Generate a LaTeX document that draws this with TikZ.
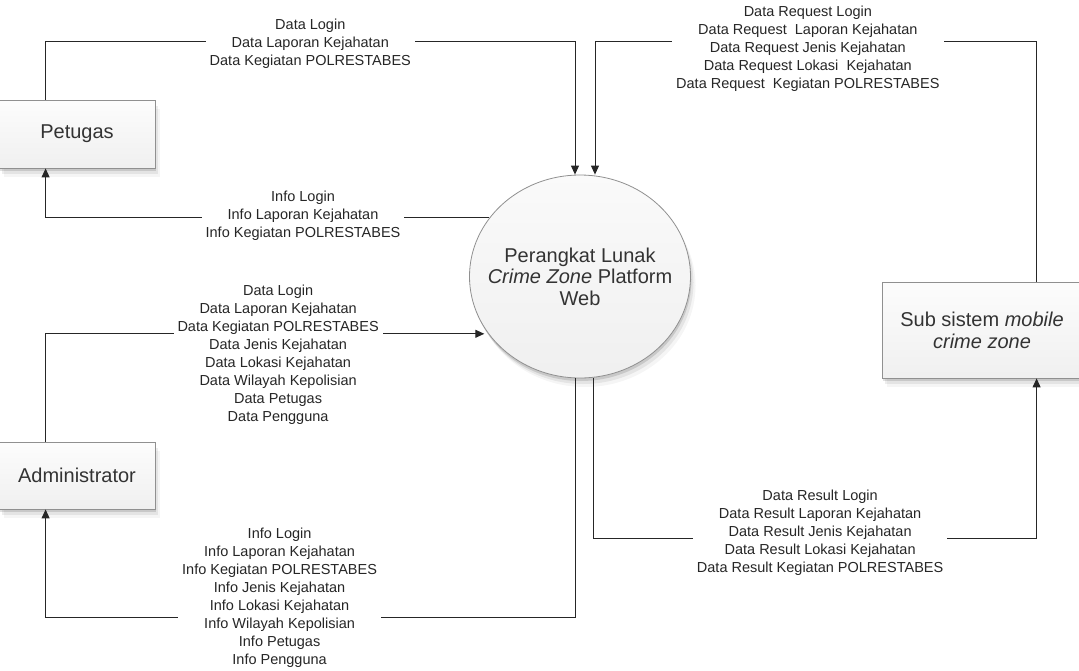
\documentclass[tikz,border=0pt]{standalone}
\usepackage{fontspec}
\setmainfont{Liberation Sans}
\usetikzlibrary{arrows.meta, shapes.geometric, shadows}
\definecolor{linegray}{HTML}{262626}
\definecolor{edgegray}{HTML}{909090}
\definecolor{textgray}{HTML}{333333}
\tikzset{
  softshadow/.style={
    drop shadow={shadow xshift=1pt, shadow yshift=-3pt, opacity=.12, fill=black},
    drop shadow={shadow xshift=3pt, shadow yshift=-6pt, opacity=.07, fill=black},
    drop shadow={shadow xshift=5pt, shadow yshift=-9pt, opacity=.04, fill=black}
  },
  extbox/.style={
    draw=edgegray, line width=0.8pt, softshadow,
    top color=white!99!black, bottom color=white!94!black,
    font=\fontsize{20}{22}\selectfont, text=textgray, align=center
  },
  procnode/.style={
    ellipse, draw=edgegray, line width=0.8pt, softshadow, inner sep=0pt,
    top color=white!98!black, bottom color=white!94!black,
    minimum width=221pt, minimum height=203pt
  },
  proctext/.style={font=\fontsize{20}{21.5}\selectfont, text=textgray, align=center},
  flow/.style={-{Triangle[length=9pt,width=8pt]}, line width=1pt, draw=linegray},
  flowtext/.style={
    fill=white, align=center, text=black!85,
    inner xsep=4pt, inner ysep=1pt,
    font=\fontsize{14.5}{18}\selectfont
  },
}

\begin{document}
\begin{tikzpicture}[x=1pt, y=-1pt]
  \useasboundingbox (0,0) rectangle (1079,670);

  \node[extbox, minimum width=156pt, minimum height=68pt] (petugas) at (77,134) {Petugas};
  \node[extbox, minimum width=156pt, minimum height=67pt] (admin) at (77,475.5) {Administrator};
  \node[extbox, minimum width=200pt, minimum height=96pt] (subsis) at (982,330)
    {Sub sistem \textit{mobile}\\ \textit{crime zone}};
  \node[procnode] (web) at (580,276.5) {};
  \node[proctext] (webtext) at (web.center)
    {Perangkat Lunak\\ \textit{Crime Zone} Platform\\ Web};

  \draw[flow] ([xshift=47pt]petugas.north west) -- ++(0,-58)
    -| node[flowtext, pos=.25, yshift=-2pt] (lpdata)
       {Data Login\\ Data Laporan Kejahatan\\ Data Kegiatan POLRESTABES}
    ([xshift=-5pt]web.north);

  \draw[flow] (web.147)
    -| node[flowtext, pos=.21, yshift=2pt] (lpinfo)
       {Info Login\\ Info Laporan Kejahatan\\ Info Kegiatan POLRESTABES}
    ([xshift=47pt]petugas.south west);

  \draw[flow] ([xshift=47pt]admin.north west)
    |- node[flowtext, pos=.765, yshift=-21pt] (ladata)
       {Data Login\\ Data Laporan Kejahatan\\ Data Kegiatan POLRESTABES\\
        Data Jenis Kejahatan\\ Data Lokasi Kejahatan\\ Data Wilayah Kepolisian\\
        Data Petugas\\ Data Pengguna}
    ([xshift=-4pt]web.212);

  \draw[flow] ([xshift=-5pt]web.south) -- ++(0,239)
    -| node[flowtext, pos=.279, yshift=19.5pt] (lainfo)
       {Info Login\\ Info Laporan Kejahatan\\ Info Kegiatan POLRESTABES\\
        Info Jenis Kejahatan\\ Info Lokasi Kejahatan\\ Info Wilayah Kepolisian\\
        Info Petugas\\ Info Pengguna}
    ([xshift=47pt]admin.south west);

  \draw[flow] ([xshift=155pt]subsis.north west) -- ++(0,-240)
    -| node[flowtext, pos=.259, yshift=-7pt] (lsreq)
       {Data Request Login\\ Data Request~ Laporan Kejahatan\\
        Data Request Jenis Kejahatan\\ Data Request Lokasi~ Kejahatan\\
        Data Request~ Kegiatan POLRESTABES}
    ([xshift=15pt]web.north);

  \draw[flow] ([xshift=13pt]web.south) -- ++(0,160)
    -| node[flowtext, pos=.256, yshift=6pt] (lsres)
       {Data Result Login\\ Data Result Laporan Kejahatan\\
        Data Result Jenis Kejahatan\\ Data Result Lokasi Kejahatan\\
        Data Result Kegiatan POLRESTABES}
    ([xshift=155pt]subsis.south west);
\end{tikzpicture}
\end{document}
